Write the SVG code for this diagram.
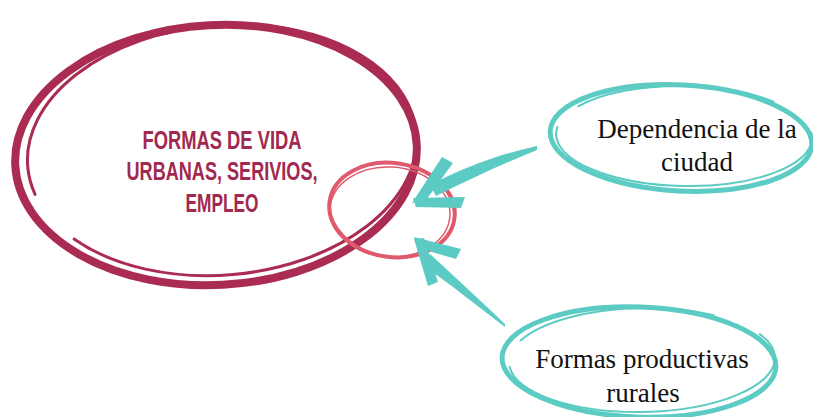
<svg xmlns="http://www.w3.org/2000/svg" width="813" height="417" viewBox="0 0 813 417">
<style>
.maroon{fill:none;stroke:#AA2C52;stroke-linecap:round}
.pink{fill:none;stroke:#E05A6D;stroke-linecap:round}
.teal{fill:none;stroke:#5CCBC3;stroke-linecap:round}
.tealfill{fill:#5CCBC3}
.lbl{font-family:"Liberation Sans",Arial,sans-serif;font-size:25px;font-weight:bold;fill:#A3284F;text-anchor:middle}
.serif{font-family:"Liberation Serif","Times New Roman",serif;font-size:27px;fill:#111;text-anchor:middle}
</style>
<rect width="813" height="417" fill="#fff"/>
<g id="node-main">
  <ellipse class="maroon" cx="216" cy="155" rx="201" ry="130" stroke-width="8" transform="rotate(-3 216 155)"/>
  <ellipse class="maroon" cx="222" cy="150" rx="195" ry="125" stroke-width="3" stroke-dasharray="420 60 300 40" transform="rotate(-5 222 150)"/>
  <text class="lbl" x="222" y="149" textLength="159" lengthAdjust="spacingAndGlyphs">FORMAS DE VIDA</text>
  <text class="lbl" x="222" y="180" textLength="191" lengthAdjust="spacingAndGlyphs">URBANAS, SERIVIOS,</text>
  <text class="lbl" x="222" y="212" textLength="73" lengthAdjust="spacingAndGlyphs">EMPLEO</text>
</g>
<g id="node-focus">
  <ellipse class="pink" cx="392" cy="210" rx="63" ry="47" stroke-width="4" transform="rotate(8 392 210)"/>
  <ellipse class="pink" cx="390" cy="212" rx="60" ry="45" stroke-width="1.5" transform="rotate(4 390 212)"/>
</g>
<g id="node-dependencia">
  <ellipse class="teal" cx="681" cy="138" rx="131" ry="53" stroke-width="5" transform="rotate(3 681 138)"/>
  <ellipse class="teal" cx="684" cy="136" rx="128" ry="50" stroke-width="2" stroke-dasharray="300 30 200 50" transform="rotate(1 684 136)"/>
  <text class="serif" x="697" y="138">Dependencia de la</text>
  <text class="serif" x="697" y="171">ciudad</text>
</g>
<g id="node-formas">
  <ellipse class="teal" cx="639" cy="362" rx="137" ry="55" stroke-width="5" transform="rotate(2 639 362)"/>
  <ellipse class="teal" cx="642" cy="360" rx="133" ry="52" stroke-width="2" stroke-dasharray="300 30 200 50" transform="rotate(-1 642 360)"/>
  <text class="serif" x="642" y="368">Formas productivas</text>
  <text class="serif" x="643" y="402">rurales</text>
</g>
<g id="connectors">
  <path class="tealfill" d="M537,146 C500,154 465,167 430,185 L436,196 C470,179 505,163 537,150 Z"/>
  <path class="tealfill" d="M412,203 L442,157 L453,163 L426,200 Z"/>
  <path class="tealfill" d="M413,198 L465,197 L461,208 L416,207 Z"/>
  <path class="tealfill" d="M505,324 C480,300 455,277 430,254 L422,264 C452,286 478,306 505,327 Z"/>
  <path class="tealfill" d="M414,237 L461,249 L456,259 L418,248 Z"/>
  <path class="tealfill" d="M414,239 L424,238 L438,282 L428,286 Z"/>
</g>
</svg>
